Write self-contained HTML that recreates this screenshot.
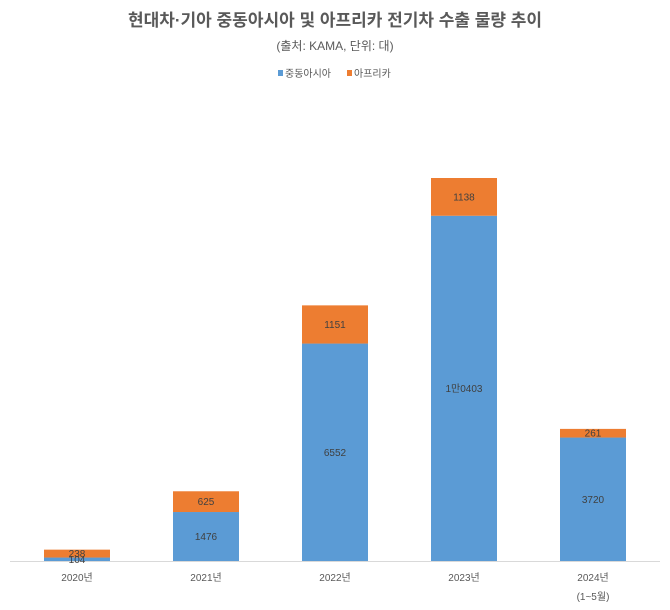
<!DOCTYPE html>
<html><head><meta charset="utf-8"><style>
body{margin:0;background:#fff;}
svg{display:block;font-family:"Liberation Sans","Noto Sans CJK KR",sans-serif;}
</style></head><body>
<svg id="chart" width="670" height="610">
<text x="335" y="26" text-anchor="middle" font-size="17" font-weight="bold" fill="#595959">현대차·기아 중동아시아 및 아프리카 전기차 수출 물량 추이</text>
<text x="335" y="50" text-anchor="middle" font-size="12" fill="#595959">(출처: KAMA, 단위: 대)</text>
<g>
<rect x="278" y="70" width="5" height="6" fill="#5b9bd5"></rect>
<text x="285" y="77" font-size="10" fill="#595959">중동아시아</text>
<rect x="347" y="70" width="5" height="6" fill="#ed7d31"></rect>
<text x="354" y="77" font-size="10" fill="#595959">아프리카</text>
</g>
<line x1="10" y1="561.5" x2="660" y2="561.5" stroke="#d9d9d9"></line>
<g id="bars"></g>
</svg>
<script>
const categories = ["2020년","2021년","2022년","2023년","2024년"];
const subLabels = ["","","","","(1~5월)"];
const middleEastAsia = [104,1476,6552,10403,3720];
const africa = [238,625,1151,1138,261];
const meLabels = ["104","1476","6552","1만0403","3720"];
const afLabels = ["238","625","1151","1138","261"];

const NS="http://www.w3.org/2000/svg";
const g=document.getElementById('bars');
const baseY=561, scale=383/11541;
const xCenter=i=>77+i*129;
const yH=v=>v*scale;
const bw=66;
function mk(tag,attrs){const e=document.createElementNS(NS,tag);for(const k in attrs)e.setAttribute(k,attrs[k]);return e;}
categories.forEach((c,i)=>{
  const x=xCenter(i)-bw/2;
  const h1=yH(middleEastAsia[i]), h2=yH(africa[i]);
  const r1=mk('rect',{x:x,y:baseY-h1,width:bw,height:h1,fill:'#5b9bd5'});
  
  
  g.appendChild(r1);
  const r2=mk('rect',{x:x,y:baseY-h1-h2,width:bw,height:h2,fill:'#ed7d31'});
  
  
  g.appendChild(r2);
  const t1=mk('text',{x:xCenter(i),y:baseY-h1/2+3.5,'text-anchor':'middle','font-size':'10',fill:'#404040'});
  t1.textContent=meLabels[i];
  
  
  g.appendChild(t1);
  const t2=mk('text',{x:xCenter(i),y:baseY-h1-h2/2+3.5,'text-anchor':'middle','font-size':'10',fill:'#404040'});
  t2.textContent=afLabels[i];
  
  
  g.appendChild(t2);
  const tc=mk('text',{x:xCenter(i),y:581,'text-anchor':'middle','font-size':'10',fill:'#595959'});
  tc.textContent=c;
  
  
  g.appendChild(tc);
  if(subLabels[i]){
    const ts=mk('text',{x:xCenter(i),y:600,'text-anchor':'middle','font-size':'10',fill:'#595959'});
    ts.textContent=subLabels[i];
    
    
    g.appendChild(ts);
  }
});
</script>
</body></html>
